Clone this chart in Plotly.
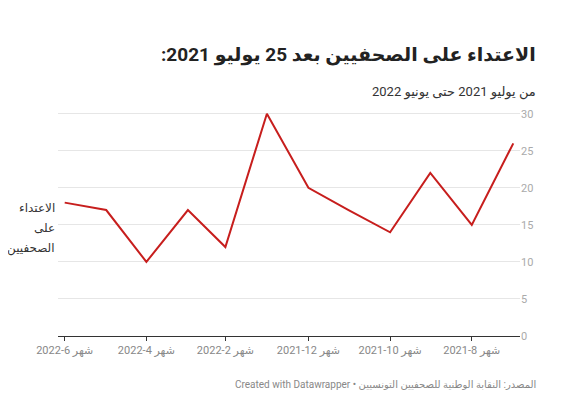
import plotly.graph_objects as go

# monthly attacks on journalists, July 2021 -> June 2022
months = ["2021-07-01", "2021-08-01", "2021-09-01", "2021-10-01", "2021-11-01", "2021-12-01",
          "2022-01-01", "2022-02-01", "2022-03-01", "2022-04-01", "2022-05-01", "2022-06-01"]
attacks = [26, 15, 22, 14, 17, 20, 30, 12, 17, 10, 17, 18]

tick_dates = ["2021-08-01", "2021-10-01", "2021-12-01", "2022-02-01", "2022-04-01", "2022-06-01"]
tick_labels = ["شهر 8-2021", "شهر 10-2021", "شهر 12-2021", "شهر 2-2022", "شهر 4-2022", "شهر 6-2022"]

y_ticks = [0, 5, 10, 15, 20, 25, 30]

title = "الاعتداء على الصحفيين بعد 25 يوليو 2021:"
subtitle = "من يوليو 2021 حتى يونيو 2022"
series_label = ["الاعتداء", "على", "الصحفيين"]
footer = "المصدر: النقابة الوطنية للصحفيين التونسيين • Created with Datawrapper"

W, H = 561, 406
OFF = 8  # page body margin
L, R, T, B = 58 - OFF, 41 + OFF, 110 - OFF, 70 + OFF
FONT = "Roboto, 'Noto Sans', 'DejaVu Sans', sans-serif"


def rtl(s):
    # force right-to-left base direction inside the svg text
    return "\u202b" + s + "\u202c"


def px(x):
    return (x - OFF - L) / (W - L - R)


def py(y):
    return (H - B - (y - OFF)) / (H - T - B)


fig = go.Figure()
fig.add_trace(go.Scatter(
    x=months, y=attacks, mode="lines",
    line=dict(color="#c71e1d", width=2),
    hoverinfo="x+y", showlegend=False,
))

fig.update_layout(
    width=W, height=H,
    margin=dict(l=L, r=R, t=T, b=B),
    paper_bgcolor="white", plot_bgcolor="white",
    font=dict(family=FONT, color="#333"),
    xaxis=dict(
        type="date",
        range=["2022-06-06", "2021-06-26"],
        tickvals=tick_dates,
        ticktext=[rtl(t) for t in tick_labels],
        tickfont=dict(size=11, color="#888"),
        showgrid=False, zeroline=False,
        showline=True, linecolor="#333", linewidth=1,
        ticks="outside", ticklen=4, tickcolor="#333",
    ),
    yaxis=dict(
        range=[0, 30.5],
        side="right",
        tickvals=y_ticks,
        tickfont=dict(size=11, color="#aaa"),
        showgrid=True, gridcolor="#e6e6e6", gridwidth=1,
        zeroline=False, showline=False, ticks="",
    ),
)

annotations = [
    dict(text="<b>" + rtl(title) + "</b>", x=px(538), y=py(55),
         font=dict(size=19, color="#222")),
    dict(text=rtl(subtitle), x=px(538), y=py(92), font=dict(size=13, color="#333")),
    dict(text=rtl(footer), x=px(538), y=py(384), font=dict(size=10, color="#888")),
]
for i, word in enumerate(series_label):
    annotations.append(dict(text=rtl(word), x=px(57), y=py(208 + 20 * i),
                            font=dict(size=12, color="#333")))

for a in annotations:
    a.update(xref="paper", yref="paper", xanchor="right", yanchor="middle",
             showarrow=False)
fig.update_layout(annotations=annotations)

fig.write_html("out.html")
